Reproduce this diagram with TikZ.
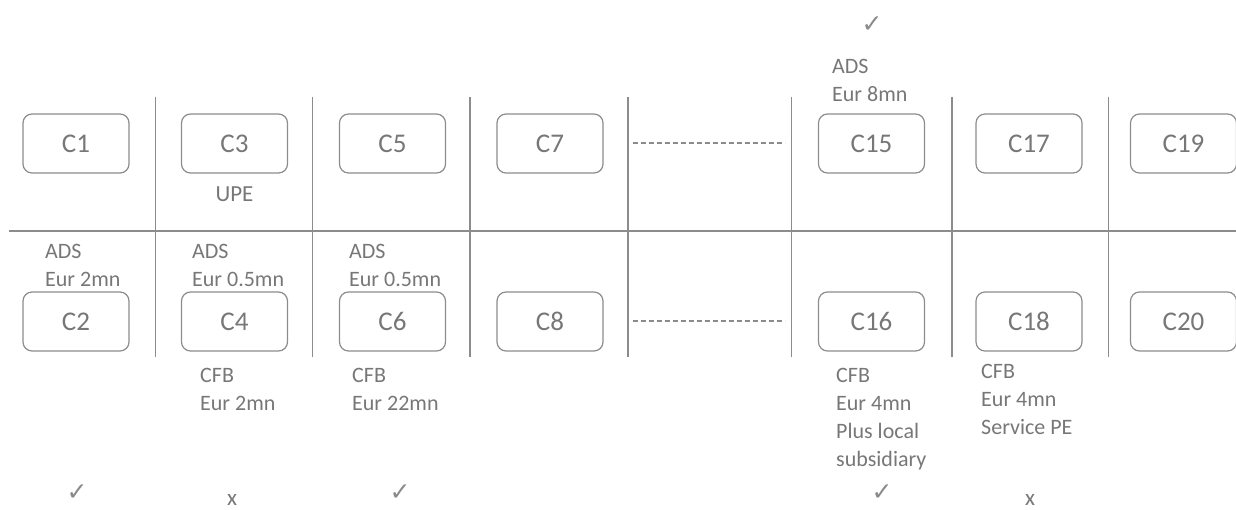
\documentclass[tikz,border=0pt]{standalone}
\usepackage{fontspec}
\setmainfont{Carlito}
\newfontfamily\symfont{DejaVu Sans}
\definecolor{txt}{HTML}{777777}
\definecolor{chkc}{HTML}{8A8A8A}
\definecolor{ln}{HTML}{8C8C8C}
\begin{document}
\begin{tikzpicture}[x=1pt,y=-1pt,
  cbox/.style={draw=ln, line width=1.2pt, rounded corners=9pt, minimum width=106pt, minimum height=59pt, inner sep=0pt, font=\fontsize{27}{30}\selectfont, text=txt},
  lbl/.style={inner sep=0pt, align=left, anchor=north west, font=\fontsize{22}{28}\selectfont, text=txt},
  chk/.style={inner sep=0pt, anchor=base, font=\symfont\fontsize{25}{28}\selectfont, text=chkc},
  cross/.style={inner sep=0pt, anchor=base, font=\fontsize{23}{28}\selectfont, text=txt},
  gridline/.style={draw=ln, line width=1.2pt},
  dotline/.style={draw=ln, line width=1.2pt, dash pattern=on 5pt off 3pt}]
\useasboundingbox (0,0) rectangle (1236,510);

% grid
\draw[gridline] (9,231) -- (1236,231);
\foreach \x in {155.7,312.5,470,628,791.7,952,1108.7}
  \draw[gridline] (\x,97) -- (\x,357);
\draw[dotline] (633,143) -- (785,143);
\draw[dotline] (633,321) -- (785,321);

% boxes
\node[cbox] (c1)  at (76,143.5)    {C1};
\node[cbox] (c3)  at (234.5,143.5) {C3};
\node[cbox] (c5)  at (392.5,143.5) {C5};
\node[cbox] (c7)  at (550,143.5)   {C7};
\node[cbox] (c15) at (871.5,143.5) {C15};
\node[cbox] (c17) at (1029,143.5)  {C17};
\node[cbox] (c19) at (1183.5,143.5){C19};
\node[cbox] (c2)  at (76,321.5)    {C2};
\node[cbox] (c4)  at (234.5,321.5) {C4};
\node[cbox] (c6)  at (392.5,321.5) {C6};
\node[cbox] (c8)  at (550,321.5)   {C8};
\node[cbox] (c16) at (871.5,321.5) {C16};
\node[cbox] (c18) at (1029,321.5)  {C18};
\node[cbox] (c20) at (1183.5,321.5){C20};

% labels
\node[cross] (upe) at (234.5,201.5) {UPE};
\node[lbl] (ads2) at (45,244.5)  {ADS\\Eur 2mn};
\node[lbl] (ads4) at (192,244.5) {ADS\\Eur 0.5mn};
\node[lbl] (ads6) at (349,244.5) {ADS\\Eur 0.5mn};
\node[lbl] (ads15) at (832,58.8) {ADS\\Eur 8mn};
\node[lbl] (cfb4) at (200,367.7) {CFB\\Eur 2mn};
\node[lbl] (cfb6) at (352,367.7) {CFB\\Eur 22mn};
\node[lbl] (cfb16) at (836,367.7) {CFB\\Eur 4mn\\Plus local\\subsidiary};
\node[lbl] (cfb18) at (981,363.7) {CFB\\Eur 4mn\\Service PE};

% marks
\node[chk] (m15) at (872,33) {✓};
\node[chk] (m2)  at (77,500)  {✓};
\node[cross] (m4) at (232,505) {x};
\node[chk] (m6)  at (400,500) {✓};
\node[chk] (m16) at (882,500) {✓};
\node[cross] (m18) at (1030,505) {x};
\end{tikzpicture}
\end{document}
